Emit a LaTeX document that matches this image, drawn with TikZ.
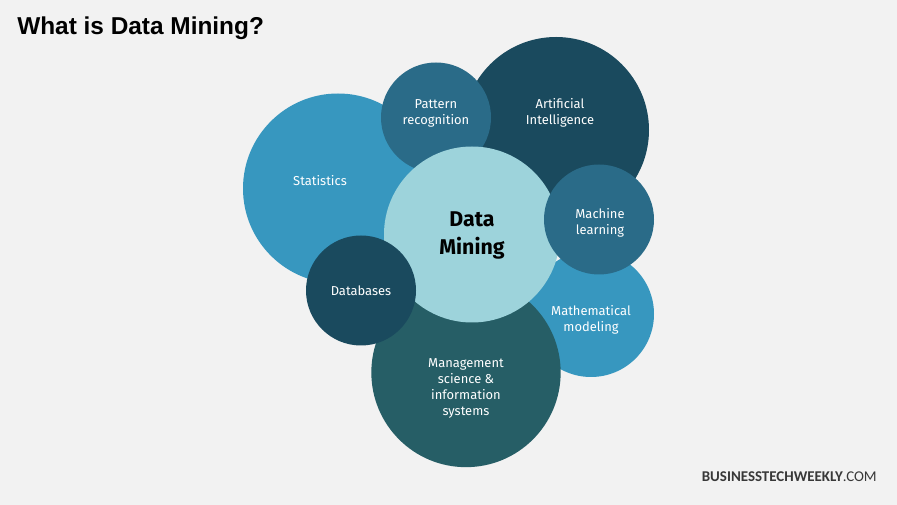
\documentclass[tikz,border=0pt]{standalone}
\usepackage{fontspec}
\setmainfont{Fira Sans}
\newfontfamily\titlefont{Liberation Sans}
\newfontfamily\brandfont{Carlito}
\definecolor{bg}{HTML}{F2F2F2}
\definecolor{blueA}{HTML}{3797BF}
\definecolor{navy}{HTML}{1A4A5E}
\definecolor{midB}{HTML}{2A6B88}
\definecolor{teal}{HTML}{265E66}
\definecolor{pale}{HTML}{9DD3DB}
\tikzset{
  bub/.style={circle,inner sep=0pt,outer sep=0pt},
  lab/.style={align=center,text=white,font=\fontsize{9.7pt}{12pt}\selectfont},
}
\begin{document}
\begin{tikzpicture}[x=0.75pt,y=-0.75pt]
\path[use as bounding box,fill=bg] (0,0) rectangle (897,505);
\node[bub,fill=blueA,minimum size=142.5pt] (stat) at (338,188.5) {};
\node[bub,fill=navy,minimum size=139.5pt] (ai) at (556,130) {};
\node[bub,fill=blueA,minimum size=94.5pt] (math) at (591,314) {};
\node[bub,fill=teal,minimum size=142pt] (mgmt) at (466,372.5) {};
\node[bub,fill=midB,minimum size=82.5pt] (pat) at (436,117.5) {};
\node[bub,fill=pale,minimum size=132pt] (dm) at (472,234.5) {};
\node[bub,fill=midB,minimum size=82.5pt] (ml) at (599,219.5) {};
\node[bub,fill=navy,minimum size=82.5pt] (db) at (361,290.5) {};
\node[lab] (tstat) at (320,181) {Statistics};
\node[lab] (tai) at (560,113) {Artificial\\Intelligence};
\node[lab] (tpat) at (436,113.5) {Pattern\\recognition};
\node[lab] (tml) at (600,222.5) {Machine\\learning};
\node[lab] (tmath) at (591,319.5) {Mathematical\\modeling};
\node[lab] (tdb) at (361,291) {Databases};
\node[lab] (tmgmt) at (466,388) {Management\\science \&\\information\\systems};
\node[align=center,text=black,font=\fontsize{16pt}{21pt}\selectfont\bfseries] (tdm) at (472,235.5) {Data\\Mining};
\node[anchor=west,inner sep=0pt,font=\titlefont\bfseries\fontsize{18.3pt}{20pt}\selectfont] (title) at (17,28.5) {What is Data Mining?};
\node[anchor=east,inner sep=0pt,text=black!78,font=\brandfont\fontsize{11.2pt}{12pt}\selectfont] (brand) at (877,477) {\textbf{BUSINESSTECHWEEKLY}.COM};
\end{tikzpicture}
\end{document}
